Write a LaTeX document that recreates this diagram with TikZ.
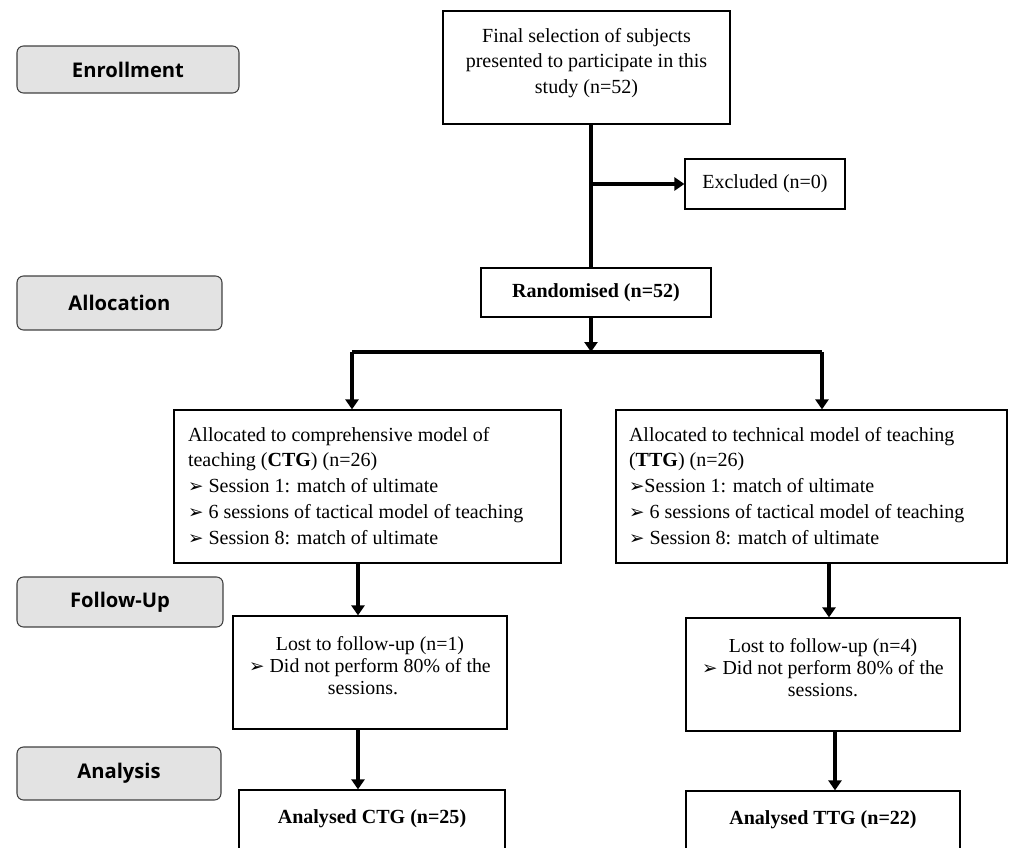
\documentclass[tikz,border=0pt]{standalone}
\usepackage{fontspec}
\setmainfont{Liberation Serif}
\newfontfamily\labelfont{Open Sans}
\newfontfamily\symfont{DejaVu Sans}
\usetikzlibrary{arrows.meta,positioning}
\newcommand{\bul}{{\symfont\fontsize{10.5}{10.5}\selectfont ➢}}
\newcommand{\boxtext}[5]{\parbox[c][#2][t]{#1}{#3\rule{0pt}{#4}#5}}
\tikzset{
  phase/.style={
    draw = black!75,
    fill = black!11,
    line width = 0.6pt,
    rounded corners = 0.13cm,
    inner sep = 0pt,
    font = \labelfont\bfseries\fontsize{11.5}{13}\selectfont
  },
  box/.style={
    draw,
    line width = 0.7pt,
    inner sep = 0pt,
    font = \fontsize{11.4}{14.7}\selectfont
  },
  lostbox/.style={
    box,
    font = \fontsize{11.3}{12.8}\selectfont
  },
  conn/.style={
    line width = 0.08cm
  },
  arr/.style={
    conn,
    -{Triangle[width=0.26cm,length=0.2cm]}
  }
}
\begin{document}
\begin{tikzpicture}[x=0.02cm,y=-0.02cm]
  \clip (0,0) rectangle (1009,848);

  % phase labels
  \node[phase, minimum width=4.44cm, minimum height=0.94cm] (enroll) at (128,69.5) {Enrollment};
  \node[phase, minimum width=4.10cm, minimum height=1.08cm] (alloc) at (119.5,303) {Allocation};
  \node[phase, minimum width=4.12cm, minimum height=1.00cm] (follow) at (120,602) {Follow-Up};
  \node[phase, minimum width=4.08cm, minimum height=1.06cm] (analysis) at (119,773.5) {Analysis};

  % enrollment
  \node[box] (sel) at (586.5,67.5)
    {\boxtext{5.74cm}{2.26cm}{\centering}{0.62cm}{Final selection of subjects\\ presented to participate in this\\ study (n=52)}};
  \node[box, minimum width=3.2cm, minimum height=1.0cm] (excl) at (765,184) {Excluded (n=0)};
  \node[box, minimum width=4.6cm, minimum height=0.98cm, font=\fontsize{11.4}{14.7}\selectfont\bfseries] (rand) at (596,292.5) {Randomised (n=52)};

  % allocation
  \node[box, inner xsep=0.28cm] (ctg) at (367.5,486.5)
    {\boxtext{7.18cm}{3.06cm}{\raggedright}{0.62cm}{Allocated to comprehensive model of\\ teaching (\textbf{CTG}) (n=26)\\ \bul\ Session 1: match of ultimate\\ \bul\ 6 sessions of tactical model of teaching\\ \bul\ Session 8: match of ultimate}};
  \node[box, inner xsep=0.26cm] (ttg) at (811.5,486.5)
    {\boxtext{7.30cm}{3.06cm}{\raggedright}{0.62cm}{Allocated to technical model of teaching\\ (\textbf{TTG}) (n=26)\\ \bul Session 1: match of ultimate\\ \bul\ 6 sessions of tactical model of teaching\\ \bul\ Session 8: match of ultimate}};

  % follow-up
  \node[lostbox] (lostc) at (370,672.5)
    {\boxtext{5.48cm}{2.26cm}{\centering}{0.68cm}{Lost to follow-up (n=1)\\ \bul\ Did not perform 80\% of the\\ sessions.\hspace*{0.28cm}}};
  \node[lostbox] (lostt) at (823,674.5)
    {\boxtext{5.48cm}{2.26cm}{\centering}{0.68cm}{Lost to follow-up (n=4)\\ \bul\ Did not perform 80\% of the\\ sessions.}};

  % analysis
  \node[box] (anc) at (372,835)
    {\boxtext{5.32cm}{1.8cm}{\centering}{0.66cm}{\textbf{Analysed CTG (n=25)}}};
  \node[box] (ant) at (823,836)
    {\boxtext{5.48cm}{1.8cm}{\centering}{0.66cm}{\textbf{Analysed TTG (n=22)}}};

  % connectors
  \coordinate (trunk) at (591,0);
  \coordinate (mid) at (591,352);
  \coordinate (lx) at (352,352);
  \coordinate (rx) at (822,352);
  \coordinate (cl) at (358,0);
  \coordinate (tr1) at (829,0);
  \coordinate (tr2) at (835,0);

  \draw[conn] (sel.south -| trunk) -- (rand.north -| trunk);
  \draw[arr] (excl.west -| trunk) -- (excl.west);
  \draw[arr] (rand.south -| trunk) -- (mid);
  \draw[conn] (lx) -- (rx);
  \draw[arr] (lx) -- (lx |- ctg.north);
  \draw[arr] (rx) -- (rx |- ttg.north);
  \draw[arr] (ctg.south -| cl) -- (lostc.north -| cl);
  \draw[arr] (lostc.south -| cl) -- (anc.north -| cl);
  \draw[arr] (ttg.south -| tr1) -- (lostt.north -| tr1);
  \draw[arr] (lostt.south -| tr2) -- (ant.north -| tr2);
\end{tikzpicture}
\end{document}
